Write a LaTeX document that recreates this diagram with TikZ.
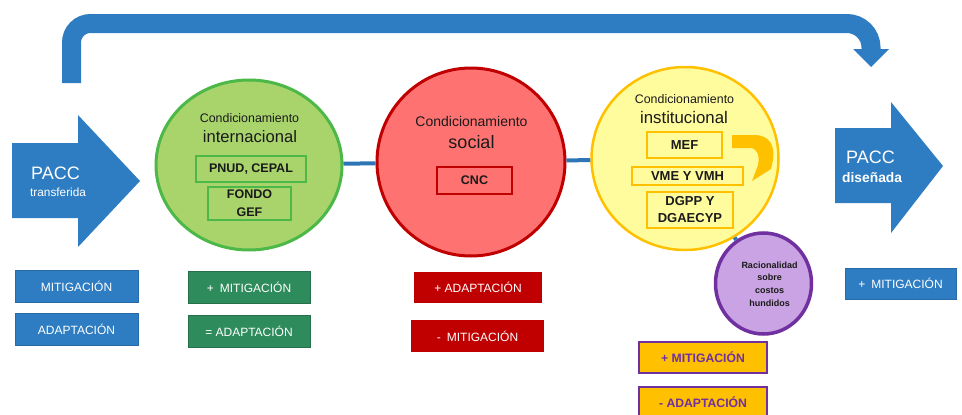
\documentclass[tikz,border=0pt]{standalone}
\usepackage{fontspec}
\setmainfont{Liberation Sans}
\usetikzlibrary{shapes.geometric}
\definecolor{bluA}{HTML}{2E7DC2}
\definecolor{connB}{HTML}{2E75B6}
\definecolor{gF}{HTML}{A9D46C}
\definecolor{gB}{HTML}{4CB848}
\definecolor{gBox}{HTML}{2E8B5C}
\definecolor{rF}{HTML}{FF7272}
\definecolor{rB}{HTML}{C00000}
\definecolor{yF}{HTML}{FFFC9E}
\definecolor{yB}{HTML}{FFC000}
\definecolor{pF}{HTML}{C9A3E3}
\definecolor{pB}{HTML}{7030A0}
\definecolor{txt}{HTML}{1A1A1A}
\newcommand{\fs}[1]{\fontsize{#1}{#1}\selectfont}
\newcommand{\fsl}[2]{\fontsize{#1}{#2}\selectfont}
\tikzset{
  circ/.style={ellipse, line width=3pt, inner sep=0pt},
  ibox/.style={draw, line width=1.5pt, font=\bfseries\fs{12.5}, text=txt, inner sep=0pt, align=center},
  bbox/.style={text=white, font=\fs{12}, inner sep=0pt, minimum height=31pt},
  ybox/.style={fill=yB, draw=pB, line width=1.2pt, text=pB, font=\bfseries\fs{12.2}, inner sep=0pt, minimum height=31pt, minimum width=128pt},
  conn/.style={draw=connB, line width=4pt},
  ttl/.style={text=txt, inner sep=0pt, align=center},
}
\begin{document}
\begin{tikzpicture}[x=1pt,y=-1pt]
\useasboundingbox (0,0) rectangle (962,415);
% top arrow
\draw[line width=19pt, bluA] (71.5,83) -- (71.5,42.5) arc[start angle=180, end angle=270, radius=19] -- (847,23.5) arc[start angle=270, end angle=360, radius=24] -- (871,50);
\fill[bluA] (853,49) -- (889,49) -- (871,67) -- cycle;
% left big arrow
\fill[bluA] (12,143) -- (78,143) -- (78,115) -- (140,181) -- (78,247) -- (78,218) -- (12,218) -- cycle;
\node[text=white, anchor=west, font=\fs{18}, inner sep=0pt] (pacc1) at (31,173) {PACC};
\node[text=white, anchor=west, font=\fs{11.8}, inner sep=0pt] (transf) at (30,192) {transferida};
% right big arrow
\fill[bluA] (835,128) -- (891,128) -- (891,102) -- (943,166) -- (891,233) -- (891,203) -- (835,203) -- cycle;
\node[text=white, anchor=west, font=\fs{18}, inner sep=0pt] (pacc2) at (846,157) {PACC};
\node[text=white, anchor=west, font=\bfseries\fs{13.8}, inner sep=0pt] (disen) at (842,178) {diseñada};
% circles
\node[circ, draw=gB, fill=gF, minimum width=186pt, minimum height=170pt] (green) at (249,165) {};
\node[circ, draw=rB, fill=rF, minimum width=188pt, minimum height=188pt] (red) at (471,162) {};
\node[circ, draw=yB, fill=yF, line width=2.5pt, minimum width=187pt, minimum height=183pt] (yellow) at (685,158.5) {};
\node[circ, draw=pB, fill=pF, line width=3.5pt, minimum width=96pt, minimum height=101pt] (purple) at (763.5,283.5) {};
% connectors
\draw[conn] (green) -- (red);
\draw[conn] (red) -- (yellow);
\draw[conn] (yellow) -- (purple);
% green content
\node[ttl, font=\fs{12.4}] (gt1) at (249.5,118) {Condicionamiento};
\node[ttl, font=\fs{16.6}] (gt2) at (250,137) {internacional};
\node[ibox, draw=gB, minimum width=110pt, minimum height=26pt] (pnud) at (251,169) {PNUD, CEPAL};
\node[ibox, draw=gB, minimum width=83pt, minimum height=33pt, font=\bfseries\fsl{12.5}{18}] (fondo) at (249.5,203.5) {FONDO\\GEF};
% red content
\node[ttl, font=\fs{14}] (rt1) at (471.5,121) {Condicionamiento};
\node[ttl, font=\fs{18}] (rt2) at (471.5,142) {social};
\node[ibox, draw=rB, line width=1.2pt, minimum width=75pt, minimum height=27pt] (cnc) at (474.5,180.5) {CNC};
% yellow content
\node[ttl, font=\fs{12.4}] (yt1) at (684.5,99) {Condicionamiento};
\node[ttl, font=\fs{16.8}] (yt2) at (684,117) {institucional};
\node[ibox, draw=yB, minimum width=75pt, minimum height=26pt, font=\bfseries\fs{13}] (mef) at (684.5,145) {MEF};
\node[ibox, draw=yB, minimum width=111pt, minimum height=18pt, font=\bfseries\fs{13}] (vme) at (687.5,176) {VME Y VMH};
\node[ibox, draw=yB, minimum width=86pt, minimum height=36pt, font=\bfseries\fsl{13}{17}] (dgpp) at (690,210) {DGPP Y\\DGAECYP};
% orange curved arrow
\fill[yB] (732,135) -- (754,135) .. controls (770,135) and (775,146) .. (773,160) -- (771,169) -- (752,181) -- (758,165) .. controls (760,155) and (757,148) .. (750,148) -- (732,148) -- cycle;
% purple content
\node[ttl, font=\bfseries\fsl{9}{12.7}] (ptxt) at (769.5,284) {Racionalidad\\sobre\\costos\\hundidos};
% bottom boxes
\node[bbox, fill=bluA, draw=bluA!85!black, line width=0.6pt, minimum width=123pt, minimum height=32pt] (b1) at (76.5,286) {MITIGACIÓN};
\node[bbox, fill=bluA, draw=bluA!85!black, line width=0.6pt, minimum width=123pt, minimum height=32pt] (b2) at (76.5,329) {ADAPTACIÓN};
\node[bbox, fill=gBox, draw=gBox!80!black, line width=0.6pt, minimum width=122pt, minimum height=32pt] (g1) at (249,287) {+\enspace MITIGACIÓN};
\node[bbox, fill=gBox, draw=gBox!80!black, line width=0.6pt, minimum width=122pt, minimum height=32pt] (g2) at (249,331) {= ADAPTACIÓN};
\node[bbox, fill=rB, minimum width=128pt] (r1) at (478,287.5) {+ ADAPTACIÓN};
\node[bbox, fill=rB, minimum width=133pt, minimum height=32pt] (r2) at (477.5,336) {-\enspace MITIGACIÓN};
\node[ybox] (y1) at (703,357.5) {+ MITIGACIÓN};
\node[ybox] (y2) at (703,402.5) {- ADAPTACIÓN};
\node[bbox, fill=bluA, draw=bluA!85!black, line width=0.6pt, minimum width=111pt] (b3) at (900.5,283.5) {+\enspace MITIGACIÓN};
\end{tikzpicture}
\end{document}
